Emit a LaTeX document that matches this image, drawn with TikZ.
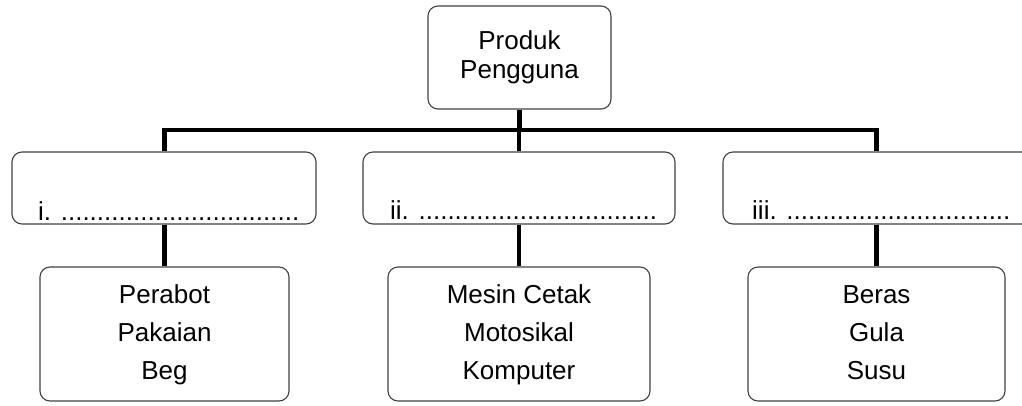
\documentclass[tikz,border=0pt]{standalone}
\usepackage{fontspec}
\setmainfont{Liberation Sans}
\begin{document}
\begin{tikzpicture}[x=1pt,y=-1pt,
  box/.style={draw=black!75, line width=1.1pt, rounded corners=10pt, inner sep=0pt, align=center},
  conn/.style={draw=black, line width=4.5pt, line join=miter},
  lbl/.style={inner sep=0pt, anchor=base west, font=\fontsize{26}{30}\selectfont},
  low/.style={box, minimum height=134pt, font=\fontsize{26}{38}\selectfont}]
\useasboundingbox (0,0) rectangle (1022,405);
\clip (0,0) rectangle (1022,405);
% top
\node[box, minimum width=183pt, minimum height=103pt, font=\fontsize{26}{29}\selectfont] (top) at (519.5,57.5) {Produk\\Pengguna};
% middle boxes
\node[box, minimum width=304pt, minimum height=72pt] (m1) at (164,188) {};
\node[box, minimum width=312pt, minimum height=72pt] (m2) at (519,188) {};
\node[box, minimum width=317pt, minimum height=72pt] (m3) at (881.5,188) {};
\node[lbl] (t1) at (38,220) {i. .................................};
\node[lbl] (t2) at (390,219) {ii. .................................};
\node[lbl] (t3) at (752,219) {iii. ...............................};
% bottom boxes
\node[low, minimum width=249pt] (b1) at (164.5,334) {\strut Perabot\\Pakaian\\Beg\strut};
\node[low, minimum width=262pt] (b2) at (519,334) {\strut Mesin Cetak\\Motosikal\\Komputer\strut};
\node[low, minimum width=257pt] (b3) at (876.5,334) {\strut Beras\\Gula\\Susu\strut};
% connectors
\coordinate (hb) at (519,130);
\draw[conn] (top.south) -- (top.south |- hb);
\draw[conn] (m1.north -| b1.north) |- (hb) -| (m3.north -| b3.north);
\draw[conn] (m2.north -| b2.north) -- (hb);
\draw[conn] (m1.south -| b1.north) -- (b1.north);
\draw[conn] (m2.south -| b2.north) -- (b2.north);
\draw[conn] (m3.south -| b3.north) -- (b3.north);
\end{tikzpicture}
\end{document}
